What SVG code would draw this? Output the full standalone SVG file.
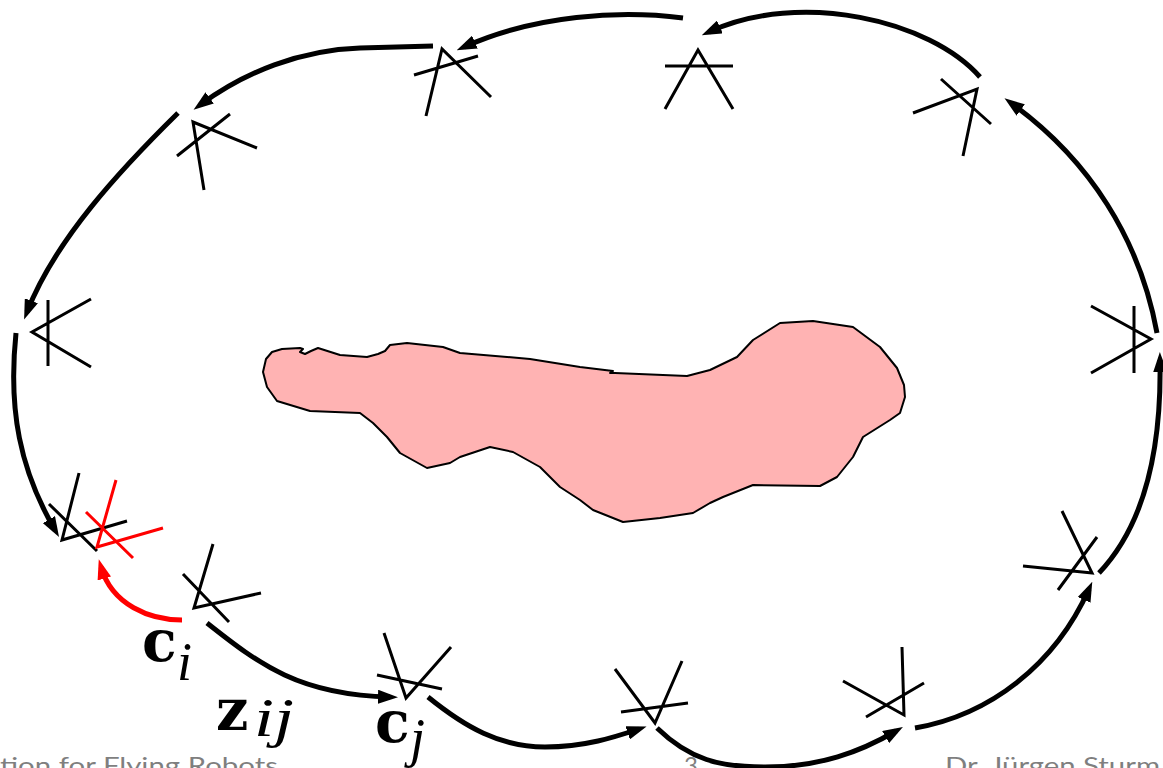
<svg xmlns="http://www.w3.org/2000/svg" width="1163" height="768" viewBox="0 0 1163 768">
<style>
.pose{fill:none;stroke:#000;stroke-width:3}
.pose.red{stroke:#ff0000}
.edge{fill:none;stroke:#000;stroke-width:5}
.edge.red{stroke:#ff0000}
.m{font-family:"DejaVu Serif","Liberation Serif",serif;font-weight:bold;font-size:57px;fill:#000}
.s{font-family:"Liberation Serif","DejaVu Serif",serif;font-style:italic;font-size:54px;fill:#000}
.foot{font-family:Lato,"Liberation Sans",sans-serif;font-size:24px;fill:#7f7f7f}
</style>
<defs>
<marker id="ah" markerUnits="userSpaceOnUse" viewBox="0 0 20 14" markerWidth="20" markerHeight="14" refX="12" refY="7" orient="auto"><path d="M0,0 L20,7 L0,14 z" fill="#000"/></marker>
<marker id="ahr" markerUnits="userSpaceOnUse" viewBox="0 0 20 14" markerWidth="20" markerHeight="14" refX="12" refY="7" orient="auto"><path d="M0,0 L20,7 L0,14 z" fill="#ff0000"/></marker>
</defs>
<rect width="1163" height="768" fill="#fff"/>
<g id="obstacle">
<path d="M263,372 L266,359 L272,352 L282,349 L300,348 L303,349 L300,352 L305,354 L311,351 L318,348 L340,355 L367,357 L378,354 L385,351 L390,345 L407,343 L443,347 L460,353 L530,359 L580,367 L613,371 L610,373 L615,373 L687,376 L710,370 L737,357 L753,340 L780,323 L813,321 L853,327 L880,347 L897,368 L904,385 L905,397 L900,413 L890,420 L863,437 L853,457 L837,477 L820,486 L753,485 L723,497 L710,503 L693,513 L660,518 L623,522 L613,518 L593,510 L580,500 L560,487 L540,467 L513,452 L490,447 L460,457 L450,463 L427,468 L400,453 L387,437 L373,423 L360,413 L310,411 L277,401 L267,387 Z" fill="#ffb3b3" stroke="#000" stroke-width="2" stroke-linejoin="round"/>
</g>
<g id="connectors">
<path class="edge" d="M683,18 C620,10 535,15 464,47" marker-end="url(#ah)"/>
<path class="edge" d="M433,46 L360,48 C300,50 245,72 200,105" marker-end="url(#ah)"/>
<path class="edge" d="M178,113 C120,170 55,240 27,312" marker-end="url(#ah)"/>
<path class="edge" d="M16,333 C8,410 20,470 55,530" marker-end="url(#ah)"/>
<path class="edge red" d="M182,620 C150,620 112,605 101,567" marker-end="url(#ahr)"/>
<path class="edge" d="M207,623 C260,665 300,695 390,697" marker-end="url(#ah)"/>
<path class="edge" d="M428,697 C465,727 500,747 545,747 C585,747 615,737 639,729" marker-end="url(#ah)"/>
<path class="edge" d="M657,728 C690,760 720,767 765,767 C820,767 860,752 896,731" marker-end="url(#ah)"/>
<path class="edge" d="M915,728 C990,715 1055,665 1089,589" marker-end="url(#ah)"/>
<path class="edge" d="M1099,573 C1135,535 1162,470 1160,360" marker-end="url(#ah)"/>
<path class="edge" d="M1157,333 C1140,240 1090,160 1011,103" marker-end="url(#ah)"/>
<path class="edge" d="M980,77 C930,20 800,-10 709,32" marker-end="url(#ah)"/>
</g>
<g id="pose1"><path class="pose" d="M257,148 L193,122 L204,190 M177,156 L230,114"/></g>
<g id="pose2"><path class="pose" d="M491,97 L442,49 L426,116 M414,75 L478,56"/></g>
<g id="pose3"><path class="pose" d="M665,109 L698,50 L733,109 M665,66 L733,66"/></g>
<g id="pose4"><path class="pose" d="M913,113 L977,89 L963,156 M941,79 L991,124"/></g>
<g id="pose5"><path class="pose" d="M1091,306 L1151,339 L1091,373 M1134,306 L1134,373"/></g>
<g id="pose6"><path class="pose" d="M1023,566 L1092,573 L1062,511 M1097,537 L1058,590"/></g>
<g id="pose7"><path class="pose" d="M843,681 L904,715 L902,647 M866,717 L924,683"/></g>
<g id="pose8"><path class="pose" d="M615,669 L655,723 L682,661 M621,712 L688,703"/></g>
<g id="pose9"><path class="pose" d="M384,633 L406,698 L451,647 M377,675 L442,689"/></g>
<g id="pose10"><path class="pose" d="M213,544 L194,608 L261,593 M183,574 L229,622"/></g>
<g id="pose11"><path class="pose" d="M79,473 L62,540 L127,521 M49,504 L97,551"/></g>
<g id="pose12"><path class="pose red" d="M116,480 L97,547 L163,528 M86,512 L133,558"/></g>
<g id="pose13"><path class="pose" d="M91,299 L32,332 L91,367 M48,300 L48,366"/></g>
<g id="labels">
<text class="m" x="142" y="661">c</text><text class="s" x="177" y="680">i</text>
<text class="m" x="216" y="730">z</text><text class="s" x="254" y="736" textLength="40" lengthAdjust="spacingAndGlyphs">ij</text>
<text class="m" x="375" y="742">c</text><text class="s" x="410" y="756">j</text>
</g>
<g id="footer">
<text class="foot" x="0" y="774" textLength="278" lengthAdjust="spacingAndGlyphs">tion for Flying Robots</text>
<text class="foot" x="684" y="774">3</text>
<text class="foot" x="945" y="774" textLength="215" lengthAdjust="spacingAndGlyphs">Dr. Jürgen Sturm</text>
</g>
</svg>
